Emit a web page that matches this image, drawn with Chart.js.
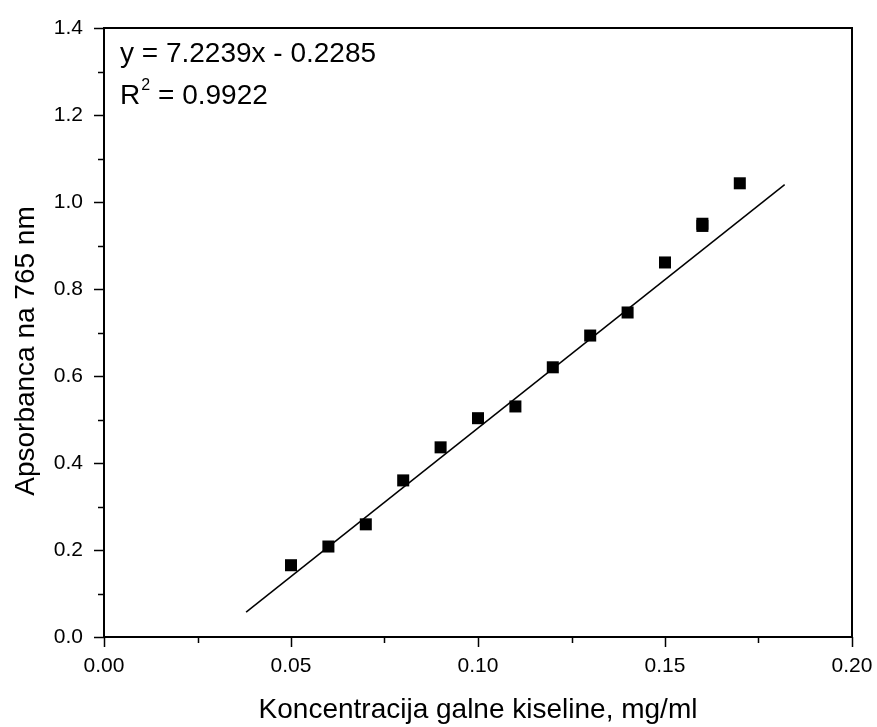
<!DOCTYPE html>
<html>
<head>
<meta charset="utf-8">
<script src="https://cdn.jsdelivr.net/npm/chart.js@4.4.0/dist/chart.umd.min.js"></script>
<style>
  html, body { margin: 0; padding: 0; background: #fff; }
  #wrap { width: 877px; height: 727px; }
</style>
</head>
<body>
<div id="wrap"><canvas id="chart" width="877" height="727"></canvas></div>
<script>
// measured points (0.16 was measured twice)
const concentration = [0.05, 0.06, 0.07, 0.08, 0.09, 0.10, 0.11, 0.12, 0.13, 0.14, 0.15, 0.16, 0.16, 0.17];
const absorbance = [0.165, 0.208, 0.259, 0.360, 0.436, 0.503, 0.530, 0.620, 0.693, 0.746, 0.861, 0.945, 0.950, 1.043];

// fitted line endpoints as drawn
const fitX = [0.038, 0.182];
const fitY = [0.057, 1.040];

const equationText = "y = 7.2239x - 0.2285";
const r2Value = "0.9922";
const xTitle = "Koncentracija galne kiseline, mg/ml";
const yTitle = "Apsorbanca na 765 nm";

const FONT = "'Liberation Sans', Arial, sans-serif";

function isMultiple(value, step) {
  const r = Math.round(value / step);
  return Math.abs(value - r * step) < 1e-6;
}

// outward major/minor ticks, frame, axis titles and the regression text
const framePlugin = {
  id: "frame",
  afterDraw(chart) {
    const ctx = chart.ctx;
    const area = chart.chartArea;
    const xs = chart.scales.x;
    const ys = chart.scales.y;
    ctx.save();
    ctx.strokeStyle = "#000";
    ctx.lineWidth = 2;
    ctx.strokeRect(area.left, area.top, area.right - area.left, area.bottom - area.top);

    ctx.lineWidth = 1.5;
    ctx.beginPath();
    xs.ticks.forEach((t) => {
      const px = Math.round(xs.getPixelForValue(t.value)) + 0.5;
      const len = isMultiple(t.value, 0.05) ? 10 : 6;
      ctx.moveTo(px, area.bottom);
      ctx.lineTo(px, area.bottom + len);
    });
    ys.ticks.forEach((t) => {
      const py = Math.round(ys.getPixelForValue(t.value)) + 0.5;
      const len = isMultiple(t.value, 0.2) ? 10 : 6;
      ctx.moveTo(area.left, py);
      ctx.lineTo(area.left - len, py);
    });
    ctx.stroke();

    ctx.fillStyle = "#000";
    ctx.textBaseline = "alphabetic";

    // axis titles
    ctx.font = "28px " + FONT;
    ctx.textAlign = "center";
    ctx.fillText(xTitle, (area.left + area.right) / 2, 718);
    ctx.save();
    ctx.translate(34, 351);
    ctx.rotate(-Math.PI / 2);
    ctx.fillText(yTitle, 0, 0);
    ctx.restore();

    // regression text
    ctx.textAlign = "left";
    ctx.font = "28px " + FONT;
    ctx.fillText(equationText, 120, 62);
    ctx.fillText("R", 120, 104);
    const rw = ctx.measureText("R").width;
    ctx.font = "16px " + FONT;
    ctx.fillText("2", 120 + rw + 1, 90);
    ctx.font = "28px " + FONT;
    ctx.fillText(" = " + r2Value, 120 + rw + 10, 104);
    ctx.restore();
  }
};

new Chart(document.getElementById("chart"), {
  type: "scatter",
  data: {
    datasets: [
      {
        label: "data",
        data: concentration.map((x, i) => ({ x: x, y: absorbance[i] })),
        pointStyle: "rect",
        pointRadius: 8.5,
        pointHoverRadius: 8.5,
        backgroundColor: "#000",
        borderColor: "#000",
        borderWidth: 0
      },
      {
        label: "fit",
        type: "line",
        data: fitX.map((x, i) => ({ x: x, y: fitY[i] })),
        borderColor: "#000",
        borderWidth: 1.5,
        pointRadius: 0,
        fill: false
      }
    ]
  },
  options: {
    responsive: false,
    animation: false,
    layout: { padding: { top: 28, right: 25, left: 0, bottom: 0 } },
    plugins: {
      legend: { display: false },
      tooltip: { enabled: false }
    },
    scales: {
      x: {
        type: "linear",
        min: 0,
        max: 0.2,
        afterFit(scale) {
          scale.height = 90;
          scale.paddingLeft = 0;
          scale.paddingRight = 0;
        },
        ticks: {
          stepSize: 0.025,
          autoSkip: false,
          maxRotation: 0,
          padding: 17,
          color: "#000",
          font: { family: FONT, size: 21 },
          callback: (v) => (isMultiple(v, 0.05) ? v.toFixed(2) : "")
        },
        grid: { display: false, drawTicks: false },
        border: { display: false },
        title: { display: false }
      },
      y: {
        type: "linear",
        min: 0,
        max: 1.4,
        afterFit(scale) {
          scale.width = 104;
          scale.paddingTop = 0;
          scale.paddingBottom = 0;
        },
        ticks: {
          stepSize: 0.1,
          autoSkip: false,
          padding: 21,
          color: "#000",
          font: { family: FONT, size: 21 },
          callback: (v) => (isMultiple(v, 0.2) ? v.toFixed(1) : "")
        },
        grid: { display: false, drawTicks: false },
        border: { display: false },
        title: { display: false }
      }
    }
  },
  plugins: [framePlugin]
});
</script>
</body>
</html>
